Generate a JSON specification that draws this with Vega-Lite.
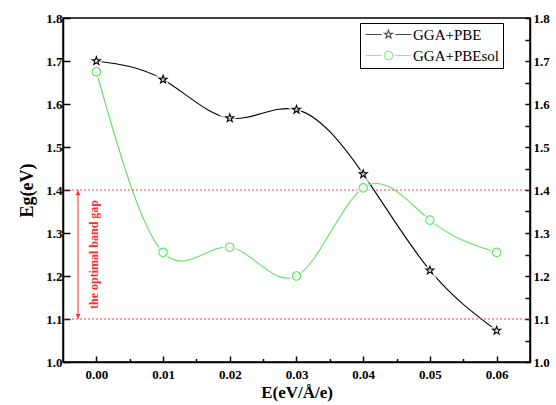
{
  "$schema": "https://vega.github.io/schema/vega-lite/v6.json",
  "width": 467,
  "height": 344,
  "autosize": {"type": "none"},
  "padding": {"left": 63, "top": 18, "right": 26, "bottom": 43},
  "background": "white",
  "config": {
    "view": {"stroke": "black", "strokeWidth": 1.5},
    "font": "Liberation Serif",
    "axis": {
      "grid": false,
      "domainColor": "black",
      "domainWidth": 1.5,
      "tickColor": "black",
      "tickWidth": 1.5,
      "labelFont": "Liberation Serif",
      "labelFontWeight": "bold",
      "labelFontSize": 13,
      "labelColor": "black",
      "titleFont": "Liberation Serif",
      "titleFontWeight": "bold",
      "titleFontSize": 17,
      "titleColor": "black"
    }
  },
  "datasets": {
    "main": [
      {"E": 0.00, "Eg": 1.700, "series": "GGA+PBE"},
      {"E": 0.01, "Eg": 1.657, "series": "GGA+PBE"},
      {"E": 0.02, "Eg": 1.567, "series": "GGA+PBE"},
      {"E": 0.03, "Eg": 1.587, "series": "GGA+PBE"},
      {"E": 0.04, "Eg": 1.437, "series": "GGA+PBE"},
      {"E": 0.05, "Eg": 1.213, "series": "GGA+PBE"},
      {"E": 0.06, "Eg": 1.073, "series": "GGA+PBE"},
      {"E": 0.00, "Eg": 1.675, "series": "GGA+PBEsol"},
      {"E": 0.01, "Eg": 1.255, "series": "GGA+PBEsol"},
      {"E": 0.02, "Eg": 1.267, "series": "GGA+PBEsol"},
      {"E": 0.03, "Eg": 1.200, "series": "GGA+PBEsol"},
      {"E": 0.04, "Eg": 1.405, "series": "GGA+PBEsol"},
      {"E": 0.05, "Eg": 1.330, "series": "GGA+PBEsol"},
      {"E": 0.06, "Eg": 1.255, "series": "GGA+PBEsol"}
    ],
    "bounds": [{"Eg": 1.1}, {"Eg": 1.4}],
    "arrow": [{"E": -0.00275, "lo": 1.1, "hi": 1.4, "mid": 1.25, "tx": -0.0003, "label": "the optimal band gap"}]
  },
  "layer": [
    {
      "data": {"name": "main"},
      "mark": {"type": "line", "interpolate": "natural", "strokeWidth": 1.1},
      "encoding": {
        "x": {
          "field": "E", "type": "quantitative",
          "scale": {"domain": [-0.005, 0.065], "nice": false, "zero": false},
          "axis": {
            "orient": "bottom",
            "values": [0, 0.01, 0.02, 0.03, 0.04, 0.05, 0.06],
            "format": ".2f",
            "tickSize": -6,
            "labelPadding": 12,
            "title": "E(eV/Å/e)",
            "titlePadding": 3
          }
        },
        "y": {
          "field": "Eg", "type": "quantitative",
          "scale": {"domain": [1.0, 1.8], "nice": false, "zero": false},
          "axis": {
            "orient": "left",
            "values": [1.0, 1.1, 1.2, 1.3, 1.4, 1.5, 1.6, 1.7, 1.8],
            "format": ".1f",
            "tickSize": -7,
            "labelPadding": 8,
            "title": "Eg(eV)",
            "titleFontSize": 18,
            "titlePadding": 9
          }
        },
        "color": {
          "field": "series", "type": "nominal",
          "scale": {"domain": ["GGA+PBE", "GGA+PBEsol"], "range": ["black", "#5fe35f"]},
          "legend": null
        }
      }
    },
    {
      "data": {"name": "bounds"},
      "mark": {"type": "rule", "stroke": "#ff4040", "strokeWidth": 1, "strokeDash": [2, 2]},
      "encoding": {
        "y": {"field": "Eg", "type": "quantitative", "axis": null}
      }
    },
    {
      "data": {"name": "main"},
      "mark": {"type": "point", "filled": true, "fill": "white", "stroke": "white", "strokeWidth": 5, "size": 72},
      "encoding": {
        "x": {"field": "E", "type": "quantitative", "axis": null},
        "y": {"field": "Eg", "type": "quantitative", "axis": null},
        "shape": {
          "field": "series", "type": "nominal",
          "scale": {"domain": ["GGA+PBE", "GGA+PBEsol"], "range": ["M0,-1L0.235,-0.324L0.951,-0.309L0.38,0.124L0.588,0.809L0,0.4L-0.588,0.809L-0.38,0.124L-0.951,-0.309L-0.235,-0.324Z", "M1,0A1,1,0,1,1,-1,0A1,1,0,1,1,1,0Z"]},
          "legend": null
        }
      }
    },
    {
      "data": {"name": "main"},
      "mark": {"type": "point", "filled": false, "strokeWidth": 1.1, "size": 72, "opacity": 1},
      "encoding": {
        "x": {"field": "E", "type": "quantitative", "axis": null},
        "y": {
          "field": "Eg", "type": "quantitative",
          "axis": {
            "orient": "right",
            "values": [1.0, 1.05, 1.1, 1.15, 1.2, 1.25, 1.3, 1.35, 1.4, 1.45, 1.5, 1.55, 1.6, 1.65, 1.7, 1.75, 1.8],
            "format": ".1f",
            "labelExpr": "round(datum.value*100) % 10 == 0 ? datum.label : ''",
            "tickSize": -5,
            "labelPadding": 8,
            "title": null
          }
        },
        "shape": {
          "field": "series", "type": "nominal",
          "scale": {"domain": ["GGA+PBE", "GGA+PBEsol"], "range": ["M0,-1L0.235,-0.324L0.951,-0.309L0.38,0.124L0.588,0.809L0,0.4L-0.588,0.809L-0.38,0.124L-0.951,-0.309L-0.235,-0.324Z", "M1,0A1,1,0,1,1,-1,0A1,1,0,1,1,1,0Z"]},
          "legend": null
        },
        "color": {
          "field": "series", "type": "nominal",
          "scale": {"domain": ["GGA+PBE", "GGA+PBEsol"], "range": ["black", "#5fe35f"]},
          "legend": null
        }
      }
    },
    {
      "data": {"name": "main"},
      "transform": [{"filter": {"field": "series", "equal": "__none__"}}],
      "mark": {"type": "point", "filled": false, "strokeWidth": 1.1},
      "encoding": {
        "shape": {
          "field": "series", "type": "nominal",
          "scale": {"domain": ["GGA+PBE", "GGA+PBEsol"], "range": ["M-5.4,0L-1.6,0M1.6,0L5.4,0M0,-1L0.235,-0.324L0.951,-0.309L0.38,0.124L0.588,0.809L0,0.4L-0.588,0.809L-0.38,0.124L-0.951,-0.309L-0.235,-0.324Z", "M-5.4,0L-1.6,0M1.6,0L5.4,0M1,0A1,1,0,1,1,-1,0A1,1,0,1,1,1,0Z"]},
          "legend": {
            "title": null,
            "orient": "none",
            "legendX": 297,
            "legendY": 5,
            "symbolSize": 72,
            "symbolOffset": 17,
            "symbolStrokeWidth": 1.1,
            "symbolFillColor": "transparent",
            "labelOffset": 17,
            "labelFont": "Liberation Serif",
            "labelFontSize": 15,
            "labelColor": "black",
            "rowPadding": 5,
            "padding": 4,
            "strokeColor": "black",
            "fillColor": "white",
            "cornerRadius": 0
          }
        },
        "color": {
          "field": "series", "type": "nominal",
          "scale": {"domain": ["GGA+PBE", "GGA+PBEsol"], "range": ["black", "#5fe35f"]}
        }
      }
    },
    {
      "data": {"name": "arrow"},
      "mark": {"type": "rule", "color": "#ff2a2a", "strokeWidth": 1},
      "encoding": {
        "x": {
          "field": "E", "type": "quantitative",
          "axis": {
            "orient": "bottom",
            "values": [0.005, 0.015, 0.025, 0.035, 0.045, 0.055],
            "labels": false,
            "domain": false,
            "tickSize": -3.5,
            "title": null
          }
        },
        "y": {"field": "lo", "type": "quantitative", "axis": null},
        "y2": {"field": "hi"}
      }
    },
    {
      "data": {"name": "arrow"},
      "mark": {"type": "point", "shape": "triangle-up", "filled": true, "fill": "#ff2a2a", "strokeWidth": 0, "size": 24, "yOffset": 3, "opacity": 1},
      "encoding": {
        "x": {"field": "E", "type": "quantitative", "axis": null},
        "y": {"field": "hi", "type": "quantitative", "axis": null}
      }
    },
    {
      "data": {"name": "arrow"},
      "mark": {"type": "point", "shape": "triangle-down", "filled": true, "fill": "#ff2a2a", "strokeWidth": 0, "size": 24, "yOffset": -3, "opacity": 1},
      "encoding": {
        "x": {"field": "E", "type": "quantitative", "axis": null},
        "y": {"field": "lo", "type": "quantitative", "axis": null}
      }
    },
    {
      "data": {"name": "arrow"},
      "mark": {"type": "text", "angle": 270, "color": "#ff2a2a", "font": "Liberation Serif", "fontWeight": "bold", "fontSize": 12, "align": "center", "baseline": "middle"},
      "encoding": {
        "x": {"field": "tx", "type": "quantitative", "axis": null},
        "y": {"field": "mid", "type": "quantitative", "axis": null},
        "text": {"field": "label"}
      }
    }
  ],
  "resolve": {
    "axis": {"x": "independent", "y": "independent"},
    "scale": {"shape": "independent", "color": "independent"}
  }
}
